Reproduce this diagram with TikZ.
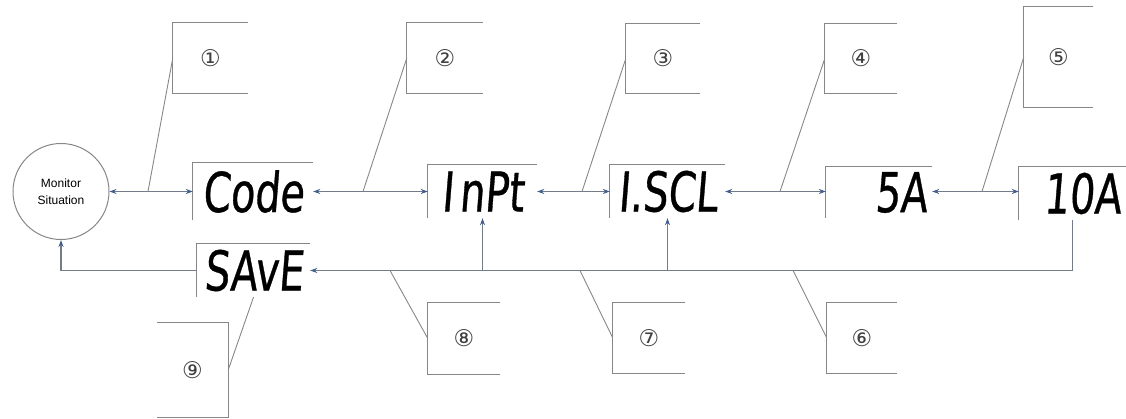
\documentclass[tikz,border=0pt]{standalone}
\usepackage{fontspec}
\setmainfont{Liberation Sans}
\newfontfamily\segfont{DejaVu Sans}[FakeSlant=0.08,FakeStretch=0.72,FakeBold=0.6]
\newfontfamily\circfont{DejaVu Sans}
\usetikzlibrary{arrows.meta}
\definecolor{linegray}{RGB}{135,135,135}
\definecolor{conn}{RGB}{115,125,138}
\definecolor{tipblue}{RGB}{65,95,140}
\begin{document}
\begin{tikzpicture}[x=1pt,y=-1pt,
  disp/.style={rectangle, inner sep=0pt, font=\segfont\fontsize{55}{55}\selectfont},
  dispr/.style={rectangle, inner ysep=0pt, inner xsep=5pt, align=right, font=\segfont\fontsize{55}{55}\selectfont},
  callout/.style={rectangle, inner sep=0pt, font=\circfont\fontsize{23}{23}\selectfont, text=black!75},
  frame/.style={draw=linegray, line width=1.1pt},
  leader/.style={draw=linegray, line width=0.9pt},
  conn/.style={draw=conn, line width=1.1pt},
  both/.style={conn, {Stealth[length=7pt,width=5pt,color=tipblue]}-{Stealth[length=7pt,width=5pt,color=tipblue]}},
  one/.style={conn, -{Stealth[length=7pt,width=5pt,color=tipblue]}}
]
\useasboundingbox (0,0) rectangle (1126,419);

% monitor circle
\node[circle, draw=linegray, line width=1pt, minimum size=96pt, inner sep=0pt, align=center,
      font=\fontsize{12}{17}\selectfont] (mon) at (61,191.5) {Monitor\\Situation};

% display boxes
\node[disp, minimum width=120pt, minimum height=57pt] (code) at (253,191.5) {Code};
\node[disp, minimum width=109pt, minimum height=53pt] (inpt) at (482.5,191.5) {I\kern6pt nPt};
\node[disp, minimum width=115pt, minimum height=53pt] (iscl) at (667.5,191.5) {I.SCL};
\node[dispr, text width=96pt, minimum height=51pt] (sa) at (879,192.5) {5A};
\node[dispr, text width=97pt, minimum height=53pt] (tenA) at (1072.5,193.5) {10A};
\node[disp, minimum width=113pt, minimum height=53pt] (save) at (253.5,270.5) {SAvE};

\foreach \n in {code,inpt,iscl,sa,tenA,save}
  \draw[frame] (\n.south west) -- (\n.north west) -- (\n.north east);

% top-row connectors
\draw[both] (mon.east) -- (code.west);
\draw[both] (code.east) -- (inpt.west);
\draw[both] (inpt.east) -- (iscl.west);
\draw[both] (iscl.east) -- (sa.west |- iscl.east);
\draw[both] (sa.east |- iscl.east) -- (tenA.west |- iscl.east);

% return path
\draw[one] (tenA.south) |- (save.east);
\draw[one] (inpt.south |- save.east) -- (inpt.south);
\draw[one] (iscl.south |- save.east) -- (iscl.south);
\draw[one] (save.west) -| (mon.south);

% leader attachment points
\coordinate (a1) at (148,191.5);
\coordinate (a2) at (363,191.5);
\coordinate (a3) at (582,191.5);
\coordinate (a4) at (780,191.5);
\coordinate (a5) at (982,191.5);
\coordinate (a8) at (390,270.5);
\coordinate (a7) at (580,270.5);
\coordinate (a6) at (793,270.5);

% callouts (top)
\node[callout, minimum width=75pt, minimum height=70pt] (c1) at (210.5,58) {①};
\node[callout, minimum width=76pt, minimum height=70pt] (c2) at (445,58) {②};
\node[callout, minimum width=74pt, minimum height=69pt] (c3) at (663,58.5) {③};
\node[callout, minimum width=72pt, minimum height=69pt] (c4) at (861,58.5) {④};
\node[callout, minimum width=69pt, minimum height=100pt] (c5) at (1058.5,57) {⑤};
% callouts (bottom)
\node[callout, minimum width=72pt, minimum height=71pt] (c8) at (464,338.5) {⑧};
\node[callout, minimum width=72pt, minimum height=70pt] (c7) at (649,338) {⑦};
\node[callout, minimum width=70pt, minimum height=70pt] (c6) at (862,338) {⑥};
\node[callout, minimum width=71pt, minimum height=94pt] (c9) at (192.5,370) {⑨};

\foreach \n in {c1,c2,c3,c4,c5,c8,c7,c6}
  \draw[frame] (\n.north east) -- (\n.north west) -- (\n.south west) -- (\n.south east);
\draw[frame] (c9.north west) -- (c9.north east) -- (c9.south east) -- (c9.south west);

\draw[leader] (c1.west) -- (a1);
\draw[leader] (c2.west) -- (a2);
\draw[leader] (c3.west) -- (a3);
\draw[leader] (c4.west) -- (a4);
\draw[leader] (c5.west) -- (a5);
\draw[leader] (c8.west) -- (a8);
\draw[leader] (c7.west) -- (a7);
\draw[leader] (c6.west) -- (a6);
\draw[leader] (c9.east) -- (save.south);
\end{tikzpicture}
\end{document}
